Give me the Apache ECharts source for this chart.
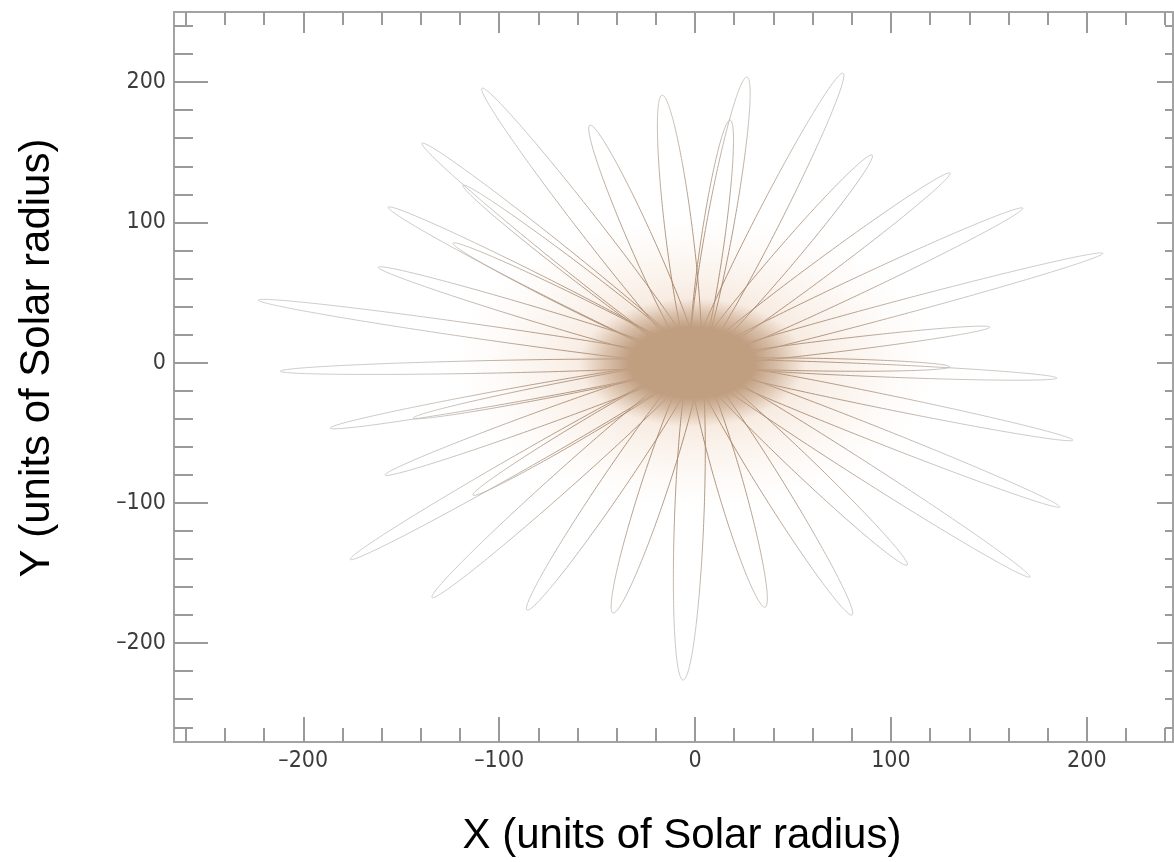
<!DOCTYPE html>
<html>
<head>
<meta charset="utf-8">
<script src="https://cdn.jsdelivr.net/npm/echarts@6/dist/echarts.min.js"></script>
<style>
  html, body { margin: 0; padding: 0; background: #ffffff; }
  #chart { width: 1174px; height: 862px; }
</style>
</head>
<body>
<div id="chart"></div>
<script>
// Apocentre of every orbit (solar radii) and the full width of its loop.
const orbitApoX = [-108.7, -53.6, -16.8, -139.3, -118.4, -156.6, -161.7, -223.0, -211.7, -186.2,
                   -158.2, -176.0, -134.2, -85.7, -41.8, -6.1, 35.7, 80.1, 108.2, 170.9,
                   186.2, 192.9, 184.7, 150.5, 208.2, 167.3, 130.1, 90.3, 75.5, 26.5,
                   17.9, -123.5, -113.3, -143.9, 130.0];
const orbitApoY = [195.7, 169.3, 190.7, 156.5, 126.5, 110.9, 68.1, 44.6, -6.1, -46.7,
                   -80.2, -140.4, -167.5, -176.4, -178.5, -226.3, -174.3, -180.0, -144.4, -152.9,
                   -103.0, -55.3, -11.0, 25.3, 78.0, 110.2, 135.2, 148.0, 206.4, 203.6,
                   172.9, 85.2, -94.5, -39.6, -3.0];
const orbitWidth = [12, 13, 14, 11, 10, 11, 10, 10, 9, 10,
                    10, 11, 12, 13, 14, 15, 14, 13, 12, 11,
                    10, 10, 9, 9, 10, 11, 11, 12, 13, 14,
                    12, 10, 10, 9, 9];
// Distance of each pericentre from the origin, on the far side.
const pericentreOffset = 10;

// Central concentration of orbits: [x, y, radius x, radius y]
const coreCloud = [-1.5, 0, 58, 46];
const outerHaze = [0, 0, 125, 105];

const xRange = [-266, 244];
const yRange = [-270.5, 250];
const majorTicks = [-200, -100, 0, 100, 200];
const minorTicksX = [-260, -240, -220, -180, -160, -140, -120, -80, -60, -40, -20,
                     20, 40, 60, 80, 120, 140, 160, 180, 220, 240];
const minorTicksY = [-260, -240, -220, -180, -160, -140, -120, -80, -60, -40, -20,
                     20, 40, 60, 80, 120, 140, 160, 180, 220, 240];
const xTitle = 'X (units of Solar radius)';
const yTitle = 'Y (units of Solar radius)';

const orbitData = orbitApoX.map((x, i) => [x, orbitApoY[i], orbitWidth[i]]);

const frameColor = '#a3a3a3';
const tickColor = '#9a9a9a';
const labelFont = "'Liberation Sans Narrow', 'DejaVu Sans Condensed', 'Liberation Sans', sans-serif";

function fmt(v) { return v < 0 ? '\u2013' + Math.abs(v) : String(v); }

function makeAxis(range, position, ticks, length, withLine, withLabels) {
  return {
    type: 'value',
    position: position,
    min: range[0],
    max: range[1],
    axisLine: { show: withLine, onZero: false, lineStyle: { color: frameColor, width: 2 } },
    axisTick: { show: true, inside: true, length: length, customValues: ticks,
                lineStyle: { color: tickColor, width: 2 } },
    axisLabel: withLabels
      ? { show: true, customValues: majorTicks, formatter: fmt, color: '#3c3c3c',
          fontFamily: labelFont, fontSize: 23, margin: 8 }
      : { show: false },
    splitLine: { show: false },
    minorTick: { show: false }
  };
}

function renderOrbit(params, api) {
  const ax = api.value(0), ay = api.value(1), w = api.value(2);
  const R = Math.hypot(ax, ay);
  const ux = ax / R, uy = ay / R;
  const vx = -uy, vy = ux;
  const a = (R + pericentreOffset) / 2;
  const c = (R - pericentreOffset) / 2;
  const b = w / 2;
  const pts = [];
  const N = 240;
  for (let k = 0; k < N; k++) {
    const t = 2 * Math.PI * k / N;
    const along = c + a * Math.cos(t);
    const across = b * Math.sin(t);
    pts.push(api.coord([along * ux + across * vx, along * uy + across * vy]));
  }
  const o = api.coord([0, 0]);
  const stroke = new echarts.graphic.RadialGradient(o[0], o[1], 430, [
    { offset: 0, color: 'rgba(158,118,86,0.95)' },
    { offset: 0.38, color: 'rgba(170,146,126,0.85)' },
    { offset: 0.62, color: 'rgba(190,184,178,0.8)' },
    { offset: 1, color: 'rgba(198,194,190,0.8)' }
  ], true);
  return {
    type: 'polygon',
    silent: true,
    shape: { points: pts },
    style: { fill: null, stroke: stroke, lineWidth: 1 }
  };
}

function cloudRenderer(stops) {
  return function (params, api) {
    const c = api.coord([api.value(0), api.value(1)]);
    const s = api.size([api.value(2), api.value(3)]);
    return {
      type: 'circle',
      silent: true,
      x: c[0],
      y: c[1],
      scaleX: s[0] / s[1],
      scaleY: 1,
      shape: { cx: 0, cy: 0, r: s[1] },
      style: { fill: new echarts.graphic.RadialGradient(0.5, 0.5, 0.5, stops) }
    };
  };
}

const chart = echarts.init(document.getElementById('chart'), null, { renderer: 'canvas' });

chart.setOption({
  backgroundColor: '#ffffff',
  animation: false,
  grid: { left: 174, top: 12, width: 999, height: 730, containLabel: false },
  xAxis: [
    makeAxis(xRange, 'bottom', majorTicks, 25, true, true),
    makeAxis(xRange, 'bottom', minorTicksX, 14, false, false),
    makeAxis(xRange, 'top', majorTicks, 21, true, false),
    makeAxis(xRange, 'top', minorTicksX, 13, false, false)
  ],
  yAxis: [
    makeAxis(yRange, 'left', majorTicks, 34, true, true),
    makeAxis(yRange, 'left', minorTicksY, 19, false, false),
    makeAxis(yRange, 'right', majorTicks, 16, true, false),
    makeAxis(yRange, 'right', minorTicksY, 8, false, false)
  ],
  series: [
    {
      type: 'custom',
      name: 'haze',
      xAxisIndex: 0, yAxisIndex: 0,
      renderItem: cloudRenderer([
        { offset: 0, color: 'rgba(228,194,166,0.8)' },
        { offset: 0.4, color: 'rgba(238,212,190,0.5)' },
        { offset: 0.75, color: 'rgba(246,228,214,0.25)' },
        { offset: 1, color: 'rgba(252,242,234,0)' }
      ]),
      data: [outerHaze],
      z: 1
    },
    {
      type: 'custom',
      name: 'orbits',
      xAxisIndex: 0, yAxisIndex: 0,
      renderItem: renderOrbit,
      data: orbitData,
      z: 2
    },
    {
      type: 'custom',
      name: 'core',
      xAxisIndex: 0, yAxisIndex: 0,
      renderItem: cloudRenderer([
        { offset: 0, color: 'rgba(192,158,128,1)' },
        { offset: 0.55, color: 'rgba(192,158,128,1)' },
        { offset: 0.78, color: 'rgba(198,166,138,0.55)' },
        { offset: 1, color: 'rgba(210,180,155,0)' }
      ]),
      data: [coreCloud],
      z: 3
    }
  ],
  graphic: [
    {
      type: 'text', x: 682, y: 836, silent: true,
      style: { text: xTitle, fill: '#000000', font: "42px 'Liberation Sans', Arial, sans-serif",
               textAlign: 'center', textVerticalAlign: 'middle' }
    },
    {
      type: 'text', x: 37, y: 358, rotation: Math.PI / 2, silent: true,
      style: { text: yTitle, fill: '#000000', font: "42px 'Liberation Sans', Arial, sans-serif",
               textAlign: 'center', textVerticalAlign: 'middle' }
    }
  ]
});
</script>
</body>
</html>
